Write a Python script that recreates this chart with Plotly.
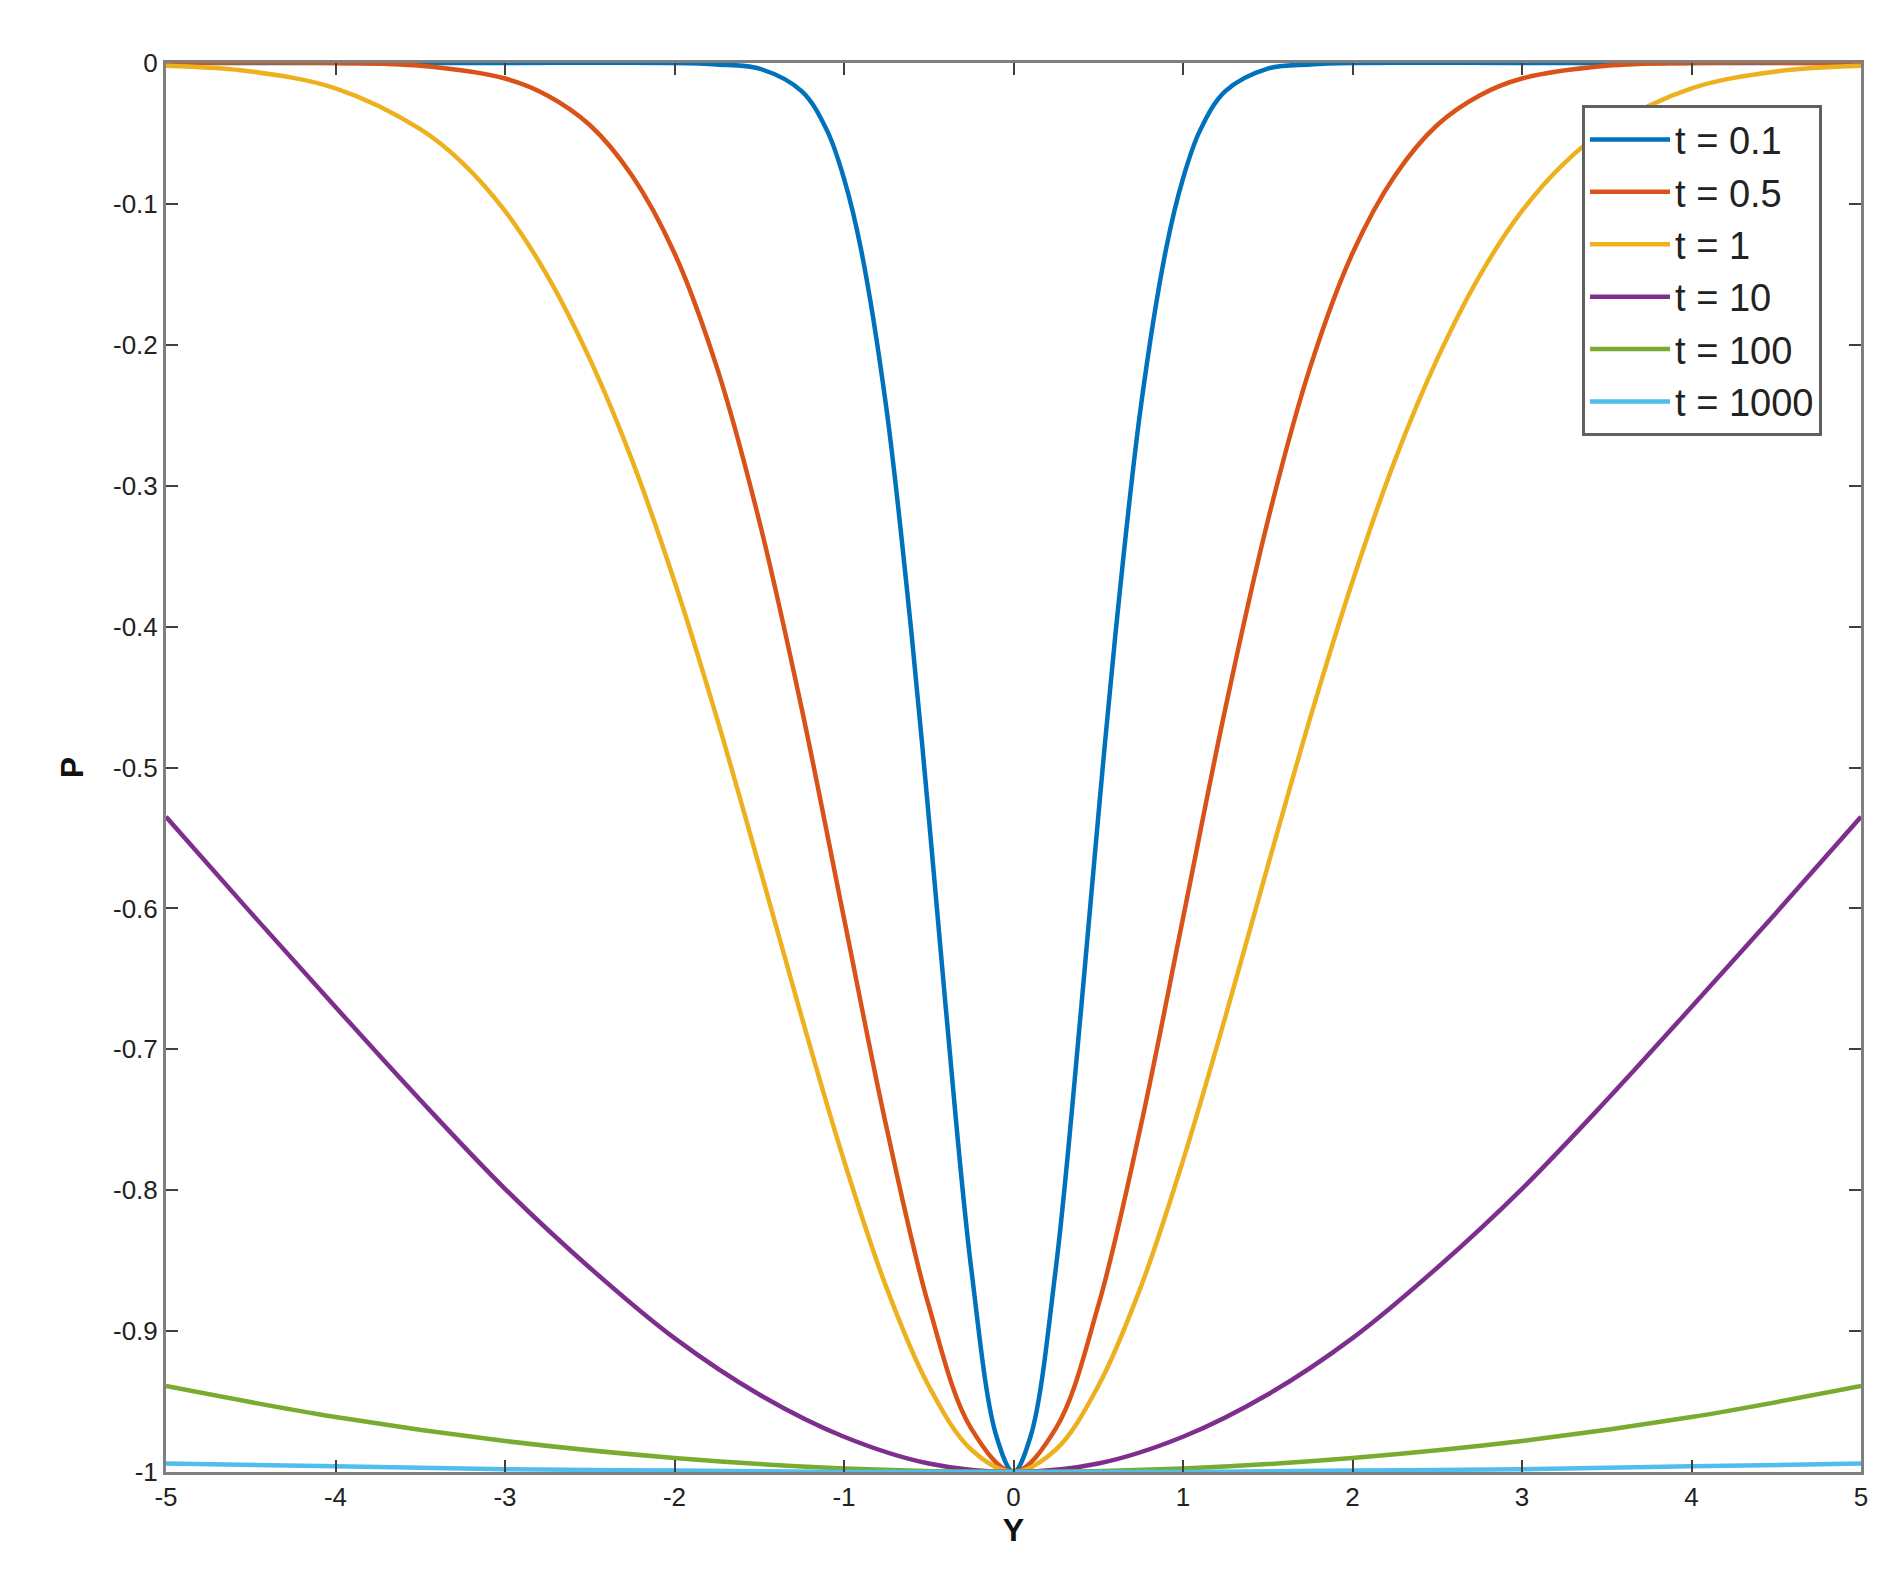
import plotly.graph_objects as go

# values, Y >= 0 side (curves are symmetric in Y)
y_01 = [0, 0.1, 0.25, 0.4, 0.5, 0.6, 0.75, 0.9, 1.0, 1.1, 1.25, 1.5, 1.75, 2.0, 3.0, 4.0, 5.0]
p_01 = [-1.0, -0.975, -0.855, -0.67, -0.535, -0.407, -0.245, -0.132, -0.082, -0.048,
        -0.02, -0.004, -0.001, 0, 0, 0, 0]

y_05 = [0, 0.25, 0.5, 0.75, 1.0, 1.25, 1.5, 1.75, 2.0, 2.25, 2.5, 2.75, 3.0, 3.5, 4.0, 5.0]
p_05 = [-1.0, -0.969, -0.882, -0.755, -0.607, -0.458, -0.325, -0.216, -0.135, -0.08,
        -0.044, -0.023, -0.011, -0.002, 0, 0]

y_1 = [0, 0.25, 0.5, 0.75, 1.0, 1.25, 1.5, 1.75, 2.0, 2.25, 2.5, 2.75, 3.0, 3.25, 3.5, 4.0, 4.5, 5.0]
p_1 = [-1.0, -0.984, -0.939, -0.869, -0.779, -0.677, -0.57, -0.465, -0.368, -0.282,
       -0.21, -0.151, -0.105, -0.071, -0.047, -0.018, -0.006, -0.002]

y_10 = [0, 0.5, 1.0, 1.5, 2.0, 2.5, 3.0, 3.5, 4.0, 4.5, 5.0]
p_10 = [-1.0, -0.994, -0.975, -0.945, -0.905, -0.855, -0.799, -0.736, -0.67, -0.603, -0.535]

y_100 = [0, 1.0, 2.0, 3.0, 4.0, 5.0]
p_100 = [-1.0, -0.9975, -0.99, -0.978, -0.961, -0.939]

y_1000 = [0, 1.0, 2.0, 3.0, 4.0, 5.0]
p_1000 = [-1.0, -1.0, -0.999, -0.998, -0.996, -0.994]

x_ticks = [-5, -4, -3, -2, -1, 0, 1, 2, 3, 4, 5]
y_ticks = [-1, -0.9, -0.8, -0.7, -0.6, -0.5, -0.4, -0.3, -0.2, -0.1, 0]

names = ["t = 0.1", "t = 0.5", "t = 1", "t = 10", "t = 100", "t = 1000"]
colors = ["#0072BD", "#D95319", "#EDB120", "#7E2F8E", "#77AC30", "#4DBEEE"]
series = [(y_01, p_01), (y_05, p_05), (y_1, p_1), (y_10, p_10), (y_100, p_100), (y_1000, p_1000)]

fig = go.Figure()
for name, col, (ys, ps) in zip(names, colors, series):
    xs = [-v for v in ys[:0:-1]] + ys
    vs = ps[:0:-1] + ps
    fig.add_trace(go.Scatter(x=xs, y=vs, mode="lines", name=name,
                             line=dict(color=col, width=4.5, shape="spline", smoothing=1)))

axis = dict(showgrid=False, zeroline=False, mirror="ticks", showline=True,
            linecolor="#808080", linewidth=3, ticks="inside", ticklen=12,
            tickwidth=2, tickcolor="#404040",
            tickfont=dict(family="Liberation Sans", size=26, color="#222"))
fig.update_layout(
    width=1877, height=1582, plot_bgcolor="white", paper_bgcolor="white",
    margin=dict(l=158, r=24, t=55, b=118),
    xaxis=dict(axis, range=[-5, 5], tickvals=x_ticks, ticktext=[str(v).replace("\u2212", "-") for v in x_ticks],
               title=dict(text="<b>Y</b>", font=dict(size=32, family="Liberation Sans", color="#111"), standoff=4)),
    yaxis=dict(axis, range=[-1, 0], tickvals=y_ticks, ticktext=[f"{v:g}" for v in y_ticks],
               title=dict(text="<b>P</b>", font=dict(size=32, family="Liberation Sans", color="#111"), standoff=20)),
    legend=dict(x=0.977, y=0.97, xanchor="right", yanchor="top", bgcolor="white",
                bordercolor="#606060", borderwidth=3, itemwidth=80, tracegroupgap=0,
                font=dict(family="Liberation Sans", size=38, color="#222")),
)
fig.write_html("out.html")
